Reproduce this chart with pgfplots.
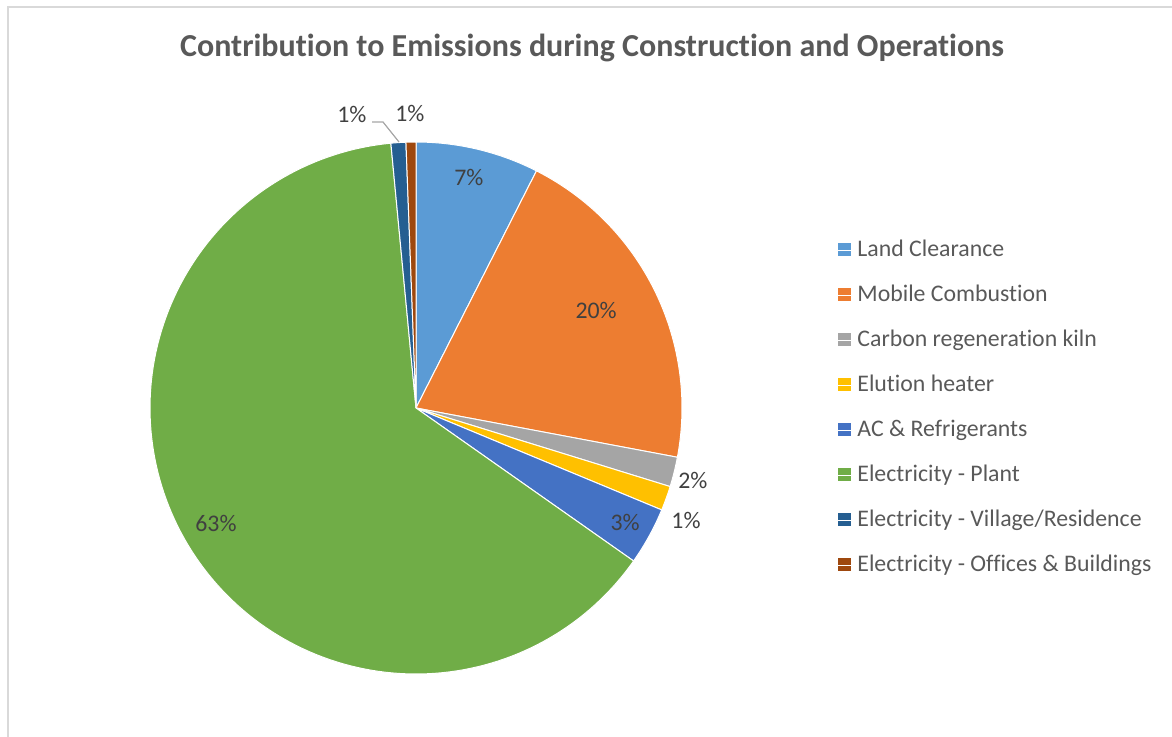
\documentclass[border=0pt]{standalone}
\usepackage{pgfplots}
\pgfplotsset{compat=1.18}
\usepackage{fontspec}
\setmainfont{Carlito}[Ligatures=NoCommon]
\definecolor{cA}{HTML}{5B9BD5}
\definecolor{cB}{HTML}{ED7D31}
\definecolor{cC}{HTML}{A5A5A5}
\definecolor{cD}{HTML}{FFC000}
\definecolor{cE}{HTML}{4472C4}
\definecolor{cF}{HTML}{70AD47}
\definecolor{cG}{HTML}{255E91}
\definecolor{cH}{HTML}{9E480E}
\definecolor{titlegray}{HTML}{595959}
\definecolor{labgray}{HTML}{404040}
\definecolor{framegray}{HTML}{D9D9D9}
\begin{document}
\begin{tikzpicture}[x=1pt,y=1pt]
\path[use as bounding box] (0,0) rectangle (586,-368.5);
\draw[color=framegray, line width=0.8pt] (4,-500) -- (4,-3.5) -- (700,-3.5);
\node[font=\bfseries\fontsize{16}{19}\selectfont, text=titlegray] at (296,-24) {Contribution to Emissions during Construction and Operations};
% slice values (percent)
\def\vA{7.45}\def\vB{20.4}\def\vC{1.8}\def\vD{1.48}
\def\vE{3.48}\def\vF{63.48}\def\vG{0.9}\def\vH{0.6}
\pgfmathsetmacro{\tot}{\vA+\vB+\vC+\vD+\vE+\vF+\vG+\vH}
\pgfmathsetmacro{\k}{360/\tot}
\pgfmathsetmacro{\eA}{\k*\vA}
\pgfmathsetmacro{\eB}{\eA+\k*\vB}
\pgfmathsetmacro{\eC}{\eB+\k*\vC}
\pgfmathsetmacro{\eD}{\eC+\k*\vD}
\pgfmathsetmacro{\eE}{\eD+\k*\vE}
\pgfmathsetmacro{\eF}{\eE+\k*\vF}
\pgfmathsetmacro{\eG}{\eF+\k*\vG}
\begin{axis}[at={(208pt,-204pt)}, anchor=center, scale only axis,
  width=266pt, height=266pt, xmin=-1, xmax=1, ymin=-1, ymax=1,
  hide axis, clip=false,
  every axis plot/.append style={draw=white, line width=0.5pt},
  legend image code/.code={\fill[#1, draw=none] (0pt,-3pt) rectangle (6.5pt,3.5pt); \path (0pt,0pt) -- (9.5pt,0pt);},
  legend cell align=left,
  legend style={draw=none, fill=none, inner sep=0pt, at={(1.2914,0.8195)}, anchor=north west,
    font=\fontsize{11.9}{14}\selectfont, text=titlegray, row sep=10.5pt,
    nodes={inner sep=0pt, text height=9pt, text depth=3pt, font=\fontsize{11.9}{14}\selectfont}},
]
\addplot[fill=cA, domain=0:\eA, samples=30] ({sin(x)},{cos(x)}) -- (axis cs:0,0) -- cycle;
\addlegendentry{Land Clearance}
\addplot[fill=cB, domain=\eA:\eB, samples=60] ({sin(x)},{cos(x)}) -- (axis cs:0,0) -- cycle;
\addlegendentry{Mobile Combustion}
\addplot[fill=cC, domain=\eB:\eC, samples=10] ({sin(x)},{cos(x)}) -- (axis cs:0,0) -- cycle;
\addlegendentry{Carbon regeneration kiln}
\addplot[fill=cD, domain=\eC:\eD, samples=10] ({sin(x)},{cos(x)}) -- (axis cs:0,0) -- cycle;
\addlegendentry{Elution heater}
\addplot[fill=cE, domain=\eD:\eE, samples=15] ({sin(x)},{cos(x)}) -- (axis cs:0,0) -- cycle;
\addlegendentry{AC \& Refrigerants}
\addplot[fill=cF, domain=\eE:\eF, samples=150] ({sin(x)},{cos(x)}) -- (axis cs:0,0) -- cycle;
\addlegendentry{Electricity - Plant}
\addplot[fill=cG, domain=\eF:\eG, samples=5] ({sin(x)},{cos(x)}) -- (axis cs:0,0) -- cycle;
\addlegendentry{Electricity - Village/Residence}
\addplot[fill=cH, domain=\eG:360, samples=5] ({sin(x)},{cos(x)}) -- (axis cs:0,0) -- cycle;
\addlegendentry{Electricity - Offices \& Buildings}
\tikzset{lab/.style={text=labgray, font=\fontsize{11.9}{14}\selectfont, inner sep=0pt}}
\node[lab] at (axis cs:0.199,0.865) {7\%};
\node[lab] at (axis cs:0.677,0.365) {20\%};
\node[lab] at (axis cs:1.041,-0.271) {2\%};
\node[lab] at (axis cs:1.015,-0.421) {1\%};
\node[lab] at (axis cs:0.786,-0.432) {3\%};
\node[lab] at (axis cs:-0.752,-0.436) {63\%};
\node[lab] at (axis cs:-0.241,1.102) {1\%};
\node[lab] at (axis cs:-0.023,1.109) {1\%};
\draw[color=gray!70, line width=0.6pt] (axis cs:-0.165,1.075) -- (axis cs:-0.124,1.075) -- (axis cs:-0.064,1.0);
\end{axis}
\end{tikzpicture}
\end{document}
